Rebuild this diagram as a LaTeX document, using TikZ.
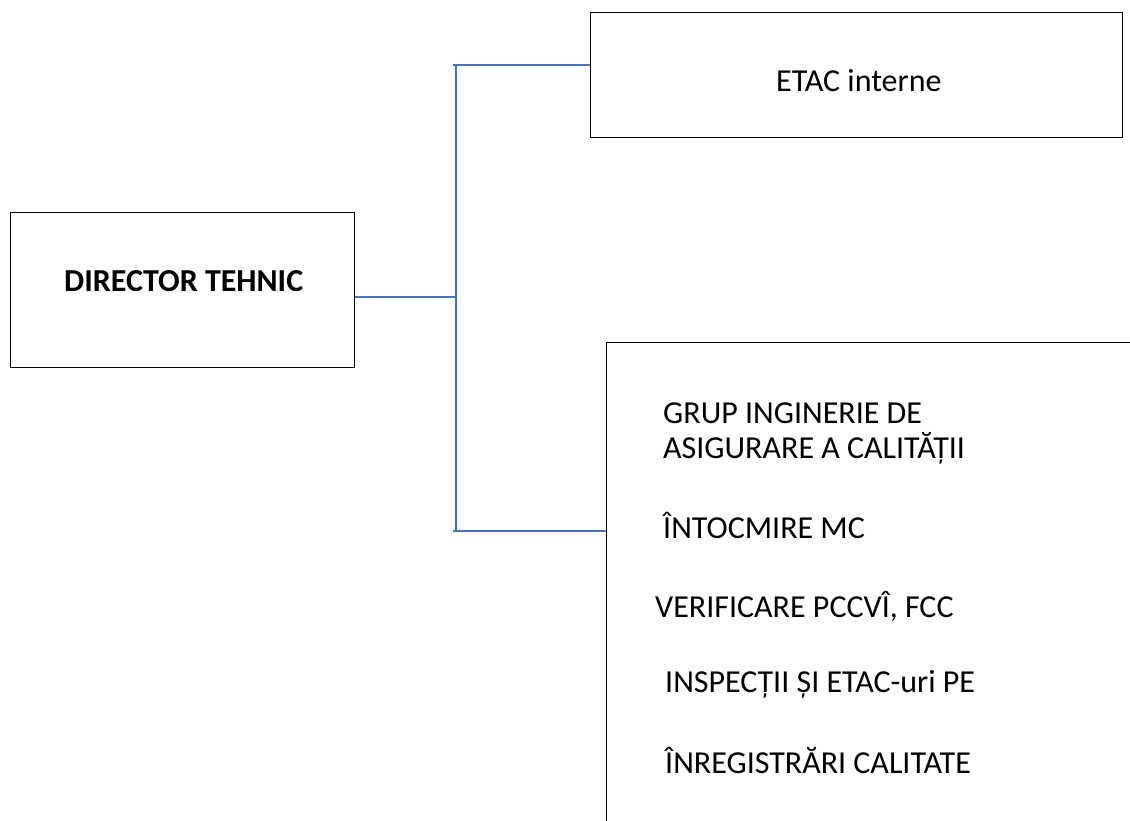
\documentclass[tikz,border=0pt]{standalone}
\usepackage{fontspec}
\setmainfont{Carlito}
\definecolor{linkblue}{HTML}{4472C4}
\begin{document}
\begin{tikzpicture}[x=1pt,y=-1pt,
  box/.style={draw=black,line width=1.4pt,rectangle,anchor=north west,inner sep=0pt},
  link/.style={draw=linkblue,line width=1.3pt},
  lbl/.style={inner sep=0pt,anchor=base west,font=\fontsize{32}{38}\selectfont}]
\clip (0,0) rectangle (1130,821);
% cutii
\node[box,minimum width=344pt,minimum height=155pt] (dir) at (10,212) {};
\node[box,minimum width=532pt,minimum height=125pt] (etac) at (590,12) {};
\node[box,minimum width=560pt,minimum height=520pt] (grup) at (606,342) {};

% texte
\node[lbl,font=\fontsize{32}{38}\selectfont\bfseries] (dirtxt) at (64,291) {DIRECTOR TEHNIC};
\node[lbl] (etactxt) at (776,92) {ETAC interne};
\node[lbl] (g1) at (663,423) {GRUP INGINERIE DE};
\node[lbl] (g2) at (663,458) {ASIGURARE A CALITĂȚII};
\node[lbl] (g3) at (663,538) {ÎNTOCMIRE MC};
\node[lbl] (g4) at (655,617) {VERIFICARE PCCVÎ, FCC};
\node[lbl] (g5) at (665,692) {INSPECȚII ȘI ETAC-uri PE};
\node[lbl] (g6) at (665,773) {ÎNREGISTRĂRI CALITATE};

% legaturi
\coordinate (jtop) at (456,65);
\coordinate (jmid) at (456,297);
\coordinate (jbot) at (456,531);
\draw[link] (jtop) -- (jbot);
\draw[link] (dir.east |- jmid) -- (jmid);
\draw[link] ([xshift=-3pt]jtop) -- (etac.west |- jtop);
\draw[link] ([xshift=-3pt]jbot) -- (grup.west |- jbot);
\end{tikzpicture}
\end{document}
